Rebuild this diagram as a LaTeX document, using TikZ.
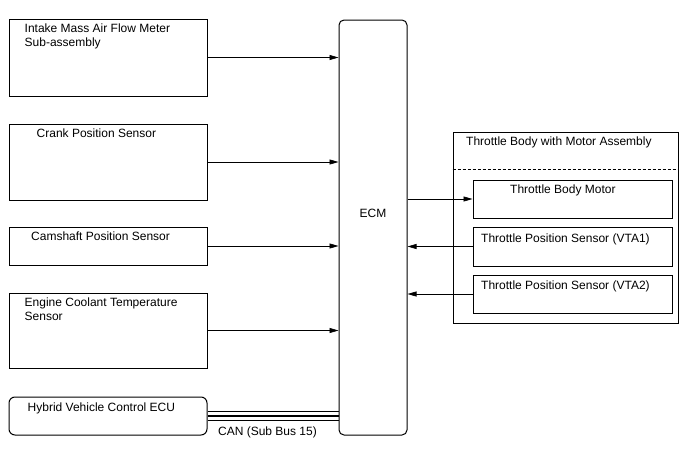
\documentclass[tikz,border=0pt]{standalone}
\usepackage{fontspec}
\setmainfont{Liberation Sans}
\usetikzlibrary{arrows.meta,positioning}
\tikzset{
  blk/.style={draw, line width=1pt, inner sep=0pt, minimum width=198pt},
  txt/.style={anchor=base west, inner sep=0pt, align=left, font=\fontsize{12}{14}\selectfont},
  sig/.style={line width=0.6pt, -{Triangle[length=9pt,width=5pt]}},
}
\begin{document}
\begin{tikzpicture}[x=1pt,y=-1pt]
\useasboundingbox (0,0) rectangle (688,463);
% sensors on the left
\node[blk, minimum height=77pt] (maf) at (108,57.5) {};
\node[blk, minimum height=76pt] (ckp) at (108,162) {};
\node[blk, minimum height=38pt] (cmp) at (108,246) {};
\node[blk, minimum height=75pt] (ect) at (108,330.5) {};
\node[blk, minimum height=38pt, rounded corners=6pt] (hv) at (108,416) {};
% two-line labels sit on the baseline of their last line
\node[txt] (maft) at ([shift={(16,28)}]maf.north west) {Intake Mass Air Flow Meter\\Sub-assembly};
\node[txt] (ckpt) at ([shift={(28,13.5)}]ckp.north west) {Crank Position Sensor};
\node[txt] (cmpt) at ([shift={(22.5,14)}]cmp.north west) {Camshaft Position Sensor};
\node[txt] (ectt) at ([shift={(16,28)}]ect.north west) {Engine Coolant Temperature\\Sensor};
\node[txt] (hvt) at ([shift={(19,15)}]hv.north west) {Hybrid Vehicle Control ECU};
% ECM
\node[blk, minimum width=68pt, minimum height=415pt, rounded corners=5pt] (ecm) at (373,227.5) {};
\node[txt, anchor=base] (ecmt) at (373,217) {ECM};
% throttle body
\node[draw, line width=1pt, inner sep=0pt, minimum width=225pt, minimum height=191pt] (tb) at (565.5,227.5) {};
\node[txt] (tbt) at ([shift={(13.5,14)}]tb.north west) {Throttle Body with Motor Assembly};
\coordinate (dl) at ([yshift=-38pt]tb.north west);
\coordinate (dr) at ([yshift=-38pt]tb.north east);
\draw[line width=1pt, dash pattern=on 3pt off 2pt] (dl) -- (dr);
\node[blk, minimum width=199pt, minimum height=38pt] (mot) at (572.5,199) {};
\node[blk, minimum width=199pt, minimum height=39pt] (vta1) at (572.5,246.5) {};
\node[blk, minimum width=199pt, minimum height=38pt] (vta2) at (572.5,294) {};
\node[txt] (mott) at ([shift={(37.5,14)}]mot.north west) {Throttle Body Motor};
\node[txt] (vta1t) at ([shift={(8.5,15.5)}]vta1.north west) {Throttle Position Sensor (VTA1)};
\node[txt] (vta2t) at ([shift={(8.5,15)}]vta2.north west) {Throttle Position Sensor (VTA2)};
% signals
\foreach \s in {maf,ckp,cmp,ect}{
  \draw[sig] (\s.east) -- (\s.east -| ecm.west);
}
\draw[sig] (mot.west -| ecm.east) -- (mot.west);
\foreach \s in {vta1,vta2}{
  \draw[sig] (\s.west) -- (\s.west -| ecm.east);
}
% CAN bus
\foreach \d in {-4.5,0,4.5}{
  \draw[line width=1.5pt] ([yshift=\d pt]hv.east) -- ([yshift=\d pt]hv.east -| ecm.west);
}
\node[txt, anchor=base] (can) at (267.5,435) {CAN (Sub Bus 15)};
\end{tikzpicture}
\end{document}
